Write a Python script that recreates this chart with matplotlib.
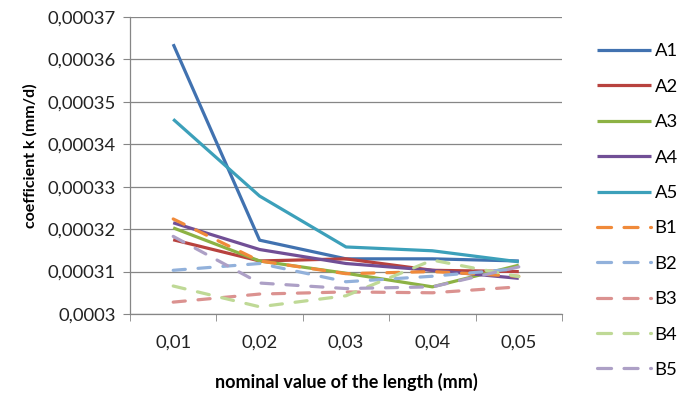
import matplotlib.pyplot as plt
from matplotlib.lines import Line2D
from matplotlib.ticker import FuncFormatter, MultipleLocator

plt.rcParams['font.family'] = ['Lato', 'DejaVu Sans']

categories = ["0,01", "0,02", "0,03", "0,04", "0,05"]

A1 = [0.0003636, 0.0003174, 0.0003130, 0.0003130, 0.0003125]
A2 = [0.0003175, 0.0003125, 0.0003130, 0.0003103, 0.0003100]
A3 = [0.0003203, 0.0003125, 0.0003096, 0.0003064, 0.0003115]
A4 = [0.0003215, 0.0003152, 0.0003119, 0.0003103, 0.0003084]
A5 = [0.0003459, 0.0003278, 0.0003158, 0.0003149, 0.0003123]
B1 = [0.0003224, 0.0003125, 0.0003095, 0.0003100, 0.0003089]
B2 = [0.0003103, 0.0003119, 0.0003076, 0.0003089, 0.0003107]
B3 = [0.0003028, 0.0003047, 0.0003052, 0.0003050, 0.0003064]
B4 = [0.0003066, 0.0003017, 0.0003043, 0.0003127, 0.0003088]
B5 = [0.0003183, 0.0003073, 0.0003060, 0.0003064, 0.0003111]

series_names = ["A1", "A2", "A3", "A4", "A5", "B1", "B2", "B3", "B4", "B5"]
series_values = [A1, A2, A3, A4, A5, B1, B2, B3, B4, B5]
colors = ["#4172B0", "#B8423E", "#8DB244", "#714F96", "#3CA0BA",
          "#F08A3A", "#92B1DB", "#DB9290", "#BFD996", "#ADA0C6"]

fig = plt.figure(figsize=(6.85, 3.96), dpi=100)
ax = fig.add_axes([130 / 685, 1 - 314 / 396, 432 / 685, 297 / 396])

x = list(range(len(categories)))
handles = []
for name, vals, col in zip(series_names, series_values, colors):
    if name.startswith("A"):
        ax.plot(x, vals, color=col, lw=2.3, solid_capstyle='butt')
        handles.append(Line2D([], [], color=col, lw=2.3, solid_capstyle='butt'))
    else:
        ax.plot(x, vals, color=col, lw=2.3, dashes=(3.8, 4.0), dash_capstyle='round')
        # legend key shows two dashes only, like the original
        handles.append(Line2D([], [], color=col, lw=2.3, dashes=(4.4, 3.9),
                              dash_capstyle='round'))

ax.set_xlim(-0.5, 4.5)
ax.set_ylim(0.0003, 0.00037)
ax.yaxis.set_major_locator(MultipleLocator(0.00001))
ax.yaxis.set_major_formatter(FuncFormatter(
    lambda v, p: ("%.5f" % v).rstrip("0").replace(".", ",")))
ax.grid(axis='y', color='#868686', lw=0.9)
ax.set_axisbelow(True)

ax.set_xticks(x)
ax.set_xticklabels(categories)
ax.set_xticks([i - 0.5 for i in range(6)], minor=True)
ax.tick_params(axis='x', which='major', length=0, pad=15)
ax.tick_params(axis='x', which='minor', length=5, color='#868686')
ax.tick_params(axis='y', length=5, color='#868686', pad=5)
ax.tick_params(labelsize=13.3, labelcolor='#222222')

for s in ['top', 'right']:
    ax.spines[s].set_visible(False)
for s in ['left', 'bottom']:
    ax.spines[s].set_color('#868686')
    ax.spines[s].set_linewidth(0.9)

ax.set_ylabel("coefficient k (mm/d)", fontsize=11.5, fontweight='bold')
ax.yaxis.set_label_coords(-0.213, 0.532)
ax.set_xlabel("nominal value of the length (mm)", fontsize=13, fontweight='bold', labelpad=16)

fig.legend(handles, series_names, loc='upper left',
           bbox_to_anchor=(590 / 685, 1 - 36 / 396),
           frameon=False, fontsize=13.3, handlelength=2.9, handletextpad=0.2,
           labelspacing=1.05, borderaxespad=0)

fig.savefig("out.png", dpi=100)
